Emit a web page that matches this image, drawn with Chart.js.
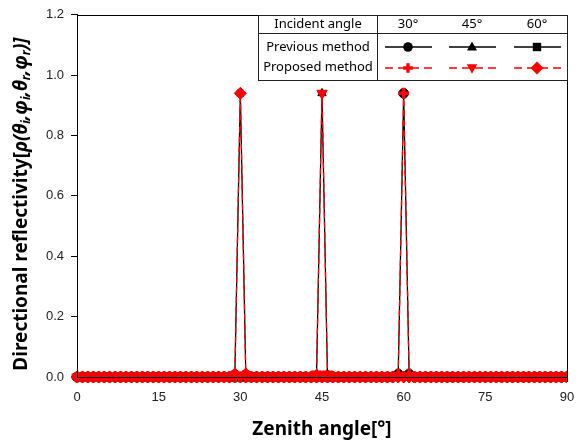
<!DOCTYPE html>
<html>
<head>
<meta charset="utf-8">
<script src="https://cdn.jsdelivr.net/npm/chart.js@4/dist/chart.umd.min.js"></script>
<style>
html,body{margin:0;padding:0;background:#fff;}
#wrap{width:586px;height:443px;position:relative;}
</style>
</head>
<body>
<div id="wrap"><canvas id="c" width="586" height="443"></canvas></div>
<script>
// Zenith angle categories (degrees)
const zenith = [0,1,2,3,4,5,6,7,8,9,
10,11,12,13,14,15,16,17,18,19,
20,21,22,23,24,25,26,27,28,29,
30,31,32,33,34,35,36,37,38,39,
40,41,42,43,44,45,46,47,48,49,
50,51,52,53,54,55,56,57,58,59,
60,61,62,63,64,65,66,67,68,69,
70,71,72,73,74,75,76,77,78,79,
80,81,82,83,84,85,86,87,88,89,
90];

// Previous method
const prev30 = [0,0,0,0,0,0,0,0,0,0, 0,0,0,0,0,0,0,0,0,0, 0,0,0,0,0,0,0,0,0,0,
0,0,0,0,0,0,0,0,0,0, 0,0,0,0,0,0,0,0,0,0, 0,0,0,0,0,0,0,0,0,0.01,
0.94,0.01,0,0,0,0,0,0,0,0, 0,0,0,0,0,0,0,0,0,0, 0,0,0,0,0,0,0,0,0,0, 0];
const prev45 = [0,0,0,0,0,0,0,0,0,0, 0,0,0,0,0,0,0,0,0,0, 0,0,0,0,0,0,0,0,0,0,
0,0,0,0,0,0,0,0,0,0, 0,0,0,0,0.01,0.94,0.01,0,0,0, 0,0,0,0,0,0,0,0,0,0,
0,0,0,0,0,0,0,0,0,0, 0,0,0,0,0,0,0,0,0,0, 0,0,0,0,0,0,0,0,0,0, 0];
const prev60 = [0,0,0,0,0,0,0,0,0,0, 0,0,0,0,0,0,0,0,0,0, 0,0,0,0,0,0,0,0,0,0.01,
0.94,0.01,0,0,0,0,0,0,0,0, 0,0,0,0,0,0,0,0,0,0, 0,0,0,0,0,0,0,0,0,0,
0,0,0,0,0,0,0,0,0,0, 0,0,0,0,0,0,0,0,0,0, 0,0,0,0,0,0,0,0,0,0, 0];
// Proposed method
const prop30 = [0,0,0,0,0,0,0,0,0,0, 0,0,0,0,0,0,0,0,0,0, 0,0,0,0,0,0,0,0,0,0,
0,0,0,0,0,0,0,0,0,0, 0,0,0,0,0,0,0,0,0,0, 0,0,0,0,0,0,0,0,0,0.01,
0.94,0.01,0,0,0,0,0,0,0,0, 0,0,0,0,0,0,0,0,0,0, 0,0,0,0,0,0,0,0,0,0, 0];
const prop45 = [0,0,0,0,0,0,0,0,0,0, 0,0,0,0,0,0,0,0,0,0, 0,0,0,0,0,0,0,0,0,0,
0,0,0,0,0,0,0,0,0,0, 0,0,0,0,0.01,0.94,0.01,0,0,0, 0,0,0,0,0,0,0,0,0,0,
0,0,0,0,0,0,0,0,0,0, 0,0,0,0,0,0,0,0,0,0, 0,0,0,0,0,0,0,0,0,0, 0];
const prop60 = [0,0,0,0,0,0,0,0,0,0, 0,0,0,0,0,0,0,0,0,0, 0,0,0,0,0,0,0,0,0,0.01,
0.94,0.01,0,0,0,0,0,0,0,0, 0,0,0,0,0,0,0,0,0,0, 0,0,0,0,0,0,0,0,0,0,
0,0,0,0,0,0,0,0,0,0, 0,0,0,0,0,0,0,0,0,0, 0,0,0,0,0,0,0,0,0,0, 0];

const xTicks = [0,15,30,45,60,75,90];
const yTicks = [0.0,0.2,0.4,0.6,0.8,1.0,1.2];
const angleLabels = ['30°','45°','60°'];

function pts(vals){ return zenith.map((z,i)=>({x:z,y:vals[i]})); }

const BL = '#000', RD = '#ff0000';
function prevDS(label, vals, style){
  return {label, order:2, data:pts(vals), borderColor:BL, backgroundColor:BL, borderWidth:1.3,
    pointStyle:style, pointRadius: style==='rect'?4.5:4.8, pointBorderWidth:1, pointBorderColor:BL, pointBackgroundColor:BL,
    tension:0, clip:{left:8,right:0,top:8,bottom:8}};
}
function propDS(label, vals, style, rot){
  return {label, order:1, data:pts(vals), borderColor:RD, backgroundColor:RD, borderWidth:1.3, borderDash:[6,4],
    pointStyle:style, pointRotation:rot||0, pointRadius: style==='cross'?5.5:6, pointBorderWidth: style==='cross'?3.6:1,
    pointBorderColor:RD, pointBackgroundColor:RD, tension:0, clip:{left:8,right:0,top:8,bottom:8}};
}

const datasets = [
  prevDS('Previous 30°', prev30, 'circle'),
  prevDS('Previous 45°', prev45, 'triangle'),
  prevDS('Previous 60°', prev60, 'rect'),
  propDS('Proposed 30°', prop30, 'cross', 0),
  propDS('Proposed 45°', prop45, 'triangle', 180),
  propDS('Proposed 60°', prop60, 'rectRot', 0)
];

function marker(ctx, style, x, y, r, color, rot, lw){
  ctx.save();
  ctx.fillStyle = color; ctx.strokeStyle = color; ctx.lineWidth = lw||1;
  ctx.translate(x,y); ctx.rotate((rot||0)*Math.PI/180);
  ctx.beginPath();
  if(style==='circle'){ ctx.arc(0,0,r,0,Math.PI*2); ctx.fill(); }
  else if(style==='triangle'){
    ctx.moveTo(0,-r*1.15); ctx.lineTo(r*1.05,r*0.75); ctx.lineTo(-r*1.05,r*0.75); ctx.closePath(); ctx.fill();
  }
  else if(style==='rect'){ ctx.rect(-r,-r,2*r,2*r); ctx.fill(); }
  else if(style==='rectRot'){ ctx.moveTo(0,-r*1.3); ctx.lineTo(r*1.3,0); ctx.lineTo(0,r*1.3); ctx.lineTo(-r*1.3,0); ctx.closePath(); ctx.fill(); }
  else if(style==='cross'){ ctx.moveTo(-r,0); ctx.lineTo(r,0); ctx.moveTo(0,-r); ctx.lineTo(0,r); ctx.stroke(); }
  ctx.restore();
}

const decor = {
  id:'decor',
  afterDraw(chart){
    const ctx = chart.ctx, a = chart.chartArea;
    ctx.save();
    // frame
    ctx.strokeStyle = '#000'; ctx.lineWidth = 1;
    ctx.strokeRect(Math.round(a.left)+0.5, Math.round(a.top)+0.5, Math.round(a.right-a.left), Math.round(a.bottom-a.top));

    // legend table
    const L = 258.5, R = Math.round(a.right)+0.5, T = Math.round(a.top)+0.5, B = 80.5, mid = 33.5, vx = 377.5;
    ctx.fillStyle = '#fff';
    ctx.fillRect(L, T, R-L, B-T);
    ctx.strokeStyle = '#222'; ctx.lineWidth = 1;
    ctx.strokeRect(L, T, R-L, B-T);
    ctx.beginPath(); ctx.moveTo(L, mid); ctx.lineTo(R, mid); ctx.moveTo(vx, T); ctx.lineTo(vx, B); ctx.stroke();
    ctx.fillStyle = '#000';
    ctx.font = '13px "Noto Sans", sans-serif';
    ctx.textAlign = 'center'; ctx.textBaseline = 'middle';
    ctx.fillText('Incident angle', 318, 24);
    ctx.fillText('Previous method', 318, 47);
    ctx.fillText('Proposed method', 318, 67);
    const cx = [408, 472, 537];
    angleLabels.forEach((t,i)=>ctx.fillText(t, cx[i], 24));
    const pStyles = ['circle','triangle','rect'];
    const rStyles = [['cross',0],['triangle',180],['rectRot',0]];
    cx.forEach((x,i)=>{
      ctx.strokeStyle = '#000'; ctx.lineWidth = 1.3; ctx.setLineDash([]);
      ctx.beginPath(); ctx.moveTo(x-23, 47); ctx.lineTo(x+24, 47); ctx.stroke();
      marker(ctx, pStyles[i], x, 47, pStyles[i]==='rect'?4.2:4.8, '#000', 0, 1);
      ctx.strokeStyle = RD; ctx.lineWidth = 1.3; ctx.setLineDash([8,5]);
      ctx.beginPath(); ctx.moveTo(x-23, 68); ctx.lineTo(x+24, 68); ctx.stroke();
      ctx.setLineDash([]);
      marker(ctx, rStyles[i][0], x, 68, rStyles[i][0]==='cross'?4.8:5, RD, rStyles[i][1], 3.4);
    });

    // x title
    ctx.fillStyle = '#000';
    ctx.font = 'bold 19px "Noto Sans", sans-serif';
    ctx.textAlign = 'center'; ctx.textBaseline = 'middle';
    ctx.fillText('Zenith angle[°]', (a.left+a.right)/2, 430);

    // y title (rich text)
    const big = 19, small = 12;
    const fN = `bold ${big}px "Noto Sans", sans-serif`;
    const fI = `italic bold ${big}px "Noto Sans", sans-serif`;
    const fS = `italic bold ${small}px "Noto Sans", sans-serif`;
    const segs = [
      ['Directional reflectivity[', fN, 0],
      ['ρ(θ', fI, 0], ['i', fS, 5], [',φ', fI, 0], ['i', fS, 5],
      [',θ', fI, 0], ['r', fS, 5], [',φ', fI, 0], ['r', fS, 5], [')]', fI, 0]
    ];
    let total = 0;
    segs.forEach(s=>{ ctx.font = s[1]; s.w = ctx.measureText(s[0]).width; total += s.w; });
    ctx.translate(22, 204);
    ctx.rotate(-Math.PI/2);
    ctx.textAlign = 'left'; ctx.textBaseline = 'middle';
    let x = -total/2;
    segs.forEach(s=>{ ctx.font = s[1]; ctx.fillText(s[0], x, s[2]); x += s.w; });
    ctx.restore();
  }
};

new Chart(document.getElementById('c'), {
  type:'line',
  data:{ datasets },
  options:{
    responsive:false, animation:false, devicePixelRatio:1,
    layout:{ padding:{ left:0, right:19, top:13, bottom:0 } },
    plugins:{ legend:{display:false}, tooltip:{enabled:false} },
    scales:{
      x:{ type:'linear', min:0, max:90,
        afterBuildTicks(s){ s.ticks = xTicks.map(v=>({value:v})); },
        afterFit(s){ s.height = 66; },
        ticks:{ color:'#222', font:{family:'"Liberation Sans", Arial', size:13}, padding:8, maxRotation:0,
          callback:v=>String(v) },
        grid:{ drawOnChartArea:false, drawTicks:true, tickLength:5, color:'#000' },
        border:{ display:true, color:'#000', width:1 }
      },
      y:{ type:'linear', min:0, max:1.2,
        afterBuildTicks(s){ s.ticks = yTicks.map(v=>({value:v})); },
        afterFit(s){ s.width = 77; },
        ticks:{ color:'#222', font:{family:'"Liberation Sans", Arial', size:13}, padding:7,
          callback:v=>Number(v).toFixed(1) },
        grid:{ drawOnChartArea:false, drawTicks:true, tickLength:6, color:'#000' },
        border:{ display:true, color:'#000', width:1 }
      }
    }
  },
  plugins:[decor]
});
</script>
</body>
</html>
